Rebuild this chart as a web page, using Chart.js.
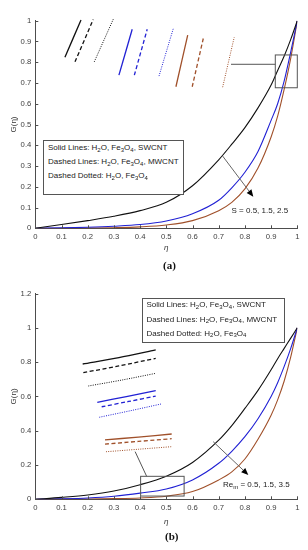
<!DOCTYPE html>
<html><head><meta charset="utf-8">
<script src="https://cdn.jsdelivr.net/npm/chart.js@4.4.1/dist/chart.umd.min.js"></script>
<style>
body{margin:0;background:#fff;}
#wrap{position:relative;width:308px;height:550px;overflow:hidden;font-family:"Liberation Sans",Arial,sans-serif;}
canvas{position:absolute;}
.lg{position:absolute;box-sizing:border-box;border:1px solid #555;background:#fff;}
.ln{position:absolute;left:4px;font-size:8px;line-height:8px;color:#222;white-space:nowrap;}
.ln sub,.ann sub{font-size:6px;position:relative;top:1.5px;vertical-align:baseline;line-height:0;}
.ann{position:absolute;font-size:8px;line-height:8px;color:#222;white-space:nowrap;}
.cap{position:absolute;font-family:"Liberation Serif","DejaVu Serif",serif;font-weight:bold;font-size:11px;line-height:11px;color:#111;}
</style></head>
<body>
<div id="wrap">
  <canvas id="cA" width="308" height="275" style="left:0;top:0"></canvas>
  <canvas id="cB" width="308" height="275" style="left:0;top:275px"></canvas>
  <canvas id="iA" width="180" height="78" style="left:60px;top:15px"></canvas>
  <canvas id="iB" width="95" height="112" style="left:80px;top:345px"></canvas>

  <div class="lg" style="left:43px;top:139.5px;width:140.5px;height:55px">
    <div class="ln" style="top:3.5px">Solid Lines: H<sub>2</sub>O, Fe<sub>3</sub>O<sub>4</sub>, SWCNT</div>
    <div class="ln" style="top:17.7px">Dashed Lines: H<sub>2</sub>O, Fe<sub>3</sub>O<sub>4</sub>, MWCNT</div>
    <div class="ln" style="top:31.9px">Dashed Dotted: H<sub>2</sub>O, Fe<sub>3</sub>O<sub>4</sub></div>
  </div>
  <div class="ann" style="left:231.5px;top:206.5px">S = 0.5, 1.5, 2.5</div>
  <div class="cap" style="left:163px;top:260px">(a)</div>

  <div class="lg" style="left:141.5px;top:298.3px;width:143.5px;height:44.5px">
    <div class="ln" style="top:2.2px">Solid Lines: H<sub>2</sub>O, Fe<sub>3</sub>O<sub>4</sub>, SWCNT</div>
    <div class="ln" style="top:16.4px">Dashed Lines: H<sub>2</sub>O, Fe<sub>3</sub>O<sub>4</sub>, MWCNT</div>
    <div class="ln" style="top:30.6px">Dashed Dotted: H<sub>2</sub>O, Fe<sub>3</sub>O<sub>4</sub></div>
  </div>
  <div class="ann" style="left:223px;top:481px">Re<sub>m</sub> = 0.5, 1.5, 3.5</div>
  <div class="cap" style="left:165px;top:531px">(b)</div>
</div>
<script>
// ---------- data ----------
const etaGrid = [0,0.1,0.2,0.3,0.4,0.5,0.6,0.7,0.75,0.8,0.85,0.9,0.925,0.95,0.975,1];
// (a) G(eta) for S = 0.5, 1.5, 2.5
const gA_S05 = [0,0.018,0.037,0.058,0.085,0.125,0.205,0.33,0.405,0.485,0.58,0.69,0.76,0.83,0.91,1];
const gA_S15 = [0,0.002,0.005,0.01,0.018,0.035,0.07,0.135,0.195,0.27,0.37,0.52,0.60,0.71,0.85,1];
const gA_S25 = [0,0.0005,0.001,0.003,0.007,0.016,0.037,0.085,0.125,0.19,0.29,0.44,0.54,0.67,0.82,1];
// (b) G(eta) for Re_m = 0.5, 1.5, 3.5
const gB_Re05 = [0,0.011,0.025,0.048,0.085,0.135,0.215,0.345,0.43,0.53,0.635,0.755,0.82,0.88,0.94,1];
const gB_Re15 = [0,0.003,0.008,0.018,0.036,0.06,0.113,0.21,0.28,0.365,0.47,0.60,0.68,0.775,0.88,1];
const gB_Re35 = [0,0.001,0.002,0.004,0.008,0.018,0.045,0.113,0.16,0.235,0.35,0.49,0.58,0.69,0.83,1];

const xTicks = [0,0.1,0.2,0.3,0.4,0.5,0.6,0.7,0.8,0.9,1];
const xTickLabels = ['0','0.1','0.2','0.3','0.4','0.5','0.6','0.7','0.8','0.9','1'];
const yTicksA = [0,0.1,0.2,0.3,0.4,0.5,0.6,0.7,0.8,0.9,1];
const yTickLabelsA = ['0','0.1','0.2','0.3','0.4','0.5','0.6','0.7','0.8','0.9','1'];
const yTicksB = [0,0.2,0.4,0.6,0.8,1,1.2];
const yTickLabelsB = ['0','0.2','0.4','0.6','0.8','1','1.2'];

// zoom boxes, connectors, arrows (data units: eta, G)
const zoomBoxA = [0.916,1.0,0.677,0.835];
const connectorA = [0.747,0.790,0.916,0.790];
const arrowA = [0.715,0.348,0.832,0.152];
const zoomBoxB = [0.402,0.568,0.019,0.134];
const connectorB = [0.381,0.278,0.425,0.134];
const arrowB = [0.679,0.336,0.813,0.142];

// inset (a): magnified segments; order: SWCNT, MWCNT, base fluid for each S
const insetA_range = [0.916,1.0,0.670,0.845];
const insetA_eta = [[0.9183,0.9258],[0.9230,0.9315],[0.9320,0.9409],[0.9435,0.9497],[0.9507,0.9567],[0.9622,0.9689],[0.9701,0.9756],[0.9777,0.9829],[0.9919,0.9973]];
const insetA_G = [[0.750,0.834],[0.740,0.835],[0.740,0.836],[0.710,0.813],[0.710,0.813],[0.708,0.815],[0.684,0.800],[0.684,0.793],[0.683,0.795]];
// inset (b)
const insetB_range = [0.402,0.568,0.019,0.134];
const insetB_eta = [[0.4067,0.4700,0.5343],[0.4078,0.4700,0.5343],[0.4165,0.4750,0.5343],[0.4322,0.4830,0.5343],[0.4399,0.4870,0.5343],[0.4357,0.4900,0.5435],[0.4457,0.5040,0.5622],[0.4457,0.5040,0.5622],[0.4474,0.5050,0.5622]];
const insetB_G = [[0.1145,0.1210,0.1289],[0.1056,0.1125,0.1203],[0.0919,0.0980,0.1049],[0.0752,0.0810,0.0871],[0.0706,0.0760,0.0816],[0.0598,0.0665,0.0734],[0.0365,0.0395,0.0426],[0.0323,0.0350,0.0378],[0.0244,0.0270,0.0296]];

// ---------- styles ----------
const COLORS = ['#111111','#2121d4','#a0502a'];
const DASHES = [[],[4,2.5],[1,1.3]];
const AXIS = '#4d4d4d';
Chart.defaults.font.family = '"Liberation Sans", Arial, sans-serif';
Chart.defaults.color = '#404040';

const annotPlugin = {
  id:'annot',
  afterDraw(chart){
    const a = chart.options.plugins.annot; if(!a) return;
    const ctx = chart.ctx, xs = chart.scales.x, ys = chart.scales.y;
    const X = v=>xs.getPixelForValue(v), Y = v=>ys.getPixelForValue(v);
    ctx.save();
    ctx.strokeStyle = AXIS; ctx.lineWidth = 1;
    const bot = chart.chartArea.bottom, left = chart.chartArea.left;
    ctx.beginPath();
    xs.ticks.forEach(t=>{const p=Math.round(X(t.value))+0.5; ctx.moveTo(p,bot); ctx.lineTo(p,bot-3);});
    ys.ticks.forEach(t=>{const p=Math.round(Y(t.value))+0.5; ctx.moveTo(left,p); ctx.lineTo(left+3,p);});
    ctx.stroke();
    const b=a.box; ctx.strokeStyle='#555'; ctx.lineWidth=1;
    ctx.strokeRect(X(b[0]),Y(b[3]),X(b[1])-X(b[0]),Y(b[2])-Y(b[3]));
    const c=a.conn; ctx.beginPath(); ctx.moveTo(X(c[0]),Y(c[1])); ctx.lineTo(X(c[2]),Y(c[3])); ctx.stroke();
    const r=a.arrow, x0=X(r[0]),y0=Y(r[1]),x1=X(r[2]),y1=Y(r[3]);
    const ang=Math.atan2(y1-y0,x1-x0), L=7, W=3;
    ctx.strokeStyle='#666'; ctx.beginPath(); ctx.moveTo(x0,y0);
    ctx.lineTo(x1-L*Math.cos(ang),y1-L*Math.sin(ang)); ctx.stroke();
    ctx.fillStyle='#000'; ctx.beginPath(); ctx.moveTo(x1,y1);
    ctx.lineTo(x1-L*Math.cos(ang)+W*Math.sin(ang), y1-L*Math.sin(ang)-W*Math.cos(ang));
    ctx.lineTo(x1-L*Math.cos(ang)-W*Math.sin(ang), y1-L*Math.sin(ang)+W*Math.cos(ang));
    ctx.closePath(); ctx.fill();
    ctx.restore();
  }
};

function mainChart(id, series, yTicks, yLabels, yMax, areaTop, areaBottom, H, xTitlePad, annot){
  const datasets = series.map((s,i)=>({
    data: etaGrid.map((e,k)=>({x:e,y:s[k]})),
    borderColor: COLORS[i], borderWidth:1.1, pointRadius:0,
    cubicInterpolationMode:'monotone', fill:false
  }));
  return new Chart(document.getElementById(id), {
    type:'line',
    data:{datasets},
    plugins:[annotPlugin],
    options:{
      responsive:false, animation:false, devicePixelRatio:1,
      layout:{padding:{top:areaTop,left:0,right:308-297.3,bottom:0}},
      plugins:{legend:{display:false}, tooltip:{enabled:false}, annot},
      scales:{
        x:{type:'linear', min:0, max:1,
           afterBuildTicks:s=>{s.ticks=xTicks.map(v=>({value:v}));},
           afterFit:s=>{s.height=H-areaBottom;},
           ticks:{callback:(v,i)=>xTickLabels[i], font:{size:7.7}, padding:4, maxRotation:0, autoSkip:false},
           grid:{display:false, drawTicks:false},
           border:{display:true, color:AXIS, width:1},
           title:{display:true, text:'η', font:{size:8, style:'italic'}, color:'#333', padding:{top:0,bottom:xTitlePad}}
        },
        y:{type:'linear', min:0, max:yMax,
           afterBuildTicks:s=>{s.ticks=yTicks.map(v=>({value:v}));},
           afterFit:s=>{s.width=35.3;},
           ticks:{callback:(v,i)=>yLabels[i], font:{size:7.7}, padding:4, autoSkip:false},
           grid:{display:false, drawTicks:false},
           border:{display:true, color:AXIS, width:1},
           title:{display:true, text:'G(η)', font:{size:8}, color:'#333', padding:{top:8.5,bottom:0}}
        }
      }
    }
  });
}

function insetChart(id, etas, gs, range){
  const datasets = etas.map((e,i)=>({
    data: e.map((v,k)=>({x:v,y:gs[i][k]})),
    borderColor: COLORS[Math.floor(i/3)], borderDash: DASHES[i%3],
    borderWidth: i%3===2 ? 1 : 1.3, pointRadius:0, tension:0.3, clip:false, fill:false
  }));
  return new Chart(document.getElementById(id), {
    type:'line', data:{datasets},
    options:{
      responsive:false, animation:false, devicePixelRatio:1,
      layout:{padding:0},
      plugins:{legend:{display:false}, tooltip:{enabled:false}},
      scales:{
        x:{type:'linear', display:false, min:range[0], max:range[1]},
        y:{type:'linear', display:false, min:range[2], max:range[3]}
      }
    }
  });
}

mainChart('cA',[gA_S05,gA_S15,gA_S25],yTicksA,yTickLabelsA,1,20.7,228.3,275,22.2,
  {box:zoomBoxA, conn:connectorA, arrow:arrowA});
mainChart('cB',[gB_Re05,gB_Re15,gB_Re35],yTicksB,yTickLabelsB,1.2,18.5,224.3,275,23.2,
  {box:zoomBoxB, conn:connectorB, arrow:arrowB});
insetChart('iA', insetA_eta, insetA_G, insetA_range);
insetChart('iB', insetB_eta, insetB_G, insetB_range);
</script>
</body></html>
